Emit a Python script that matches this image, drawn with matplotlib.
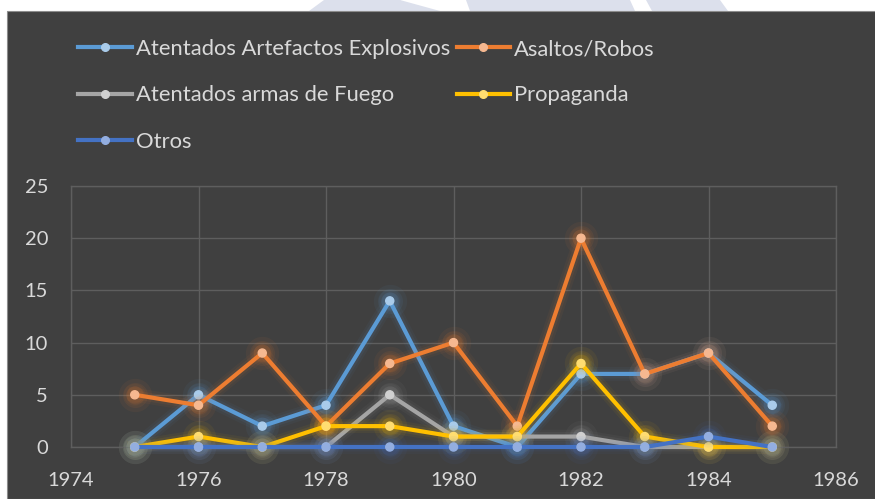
import numpy as np
import matplotlib
matplotlib.use('Agg')
import matplotlib.pyplot as plt
import matplotlib.patheffects as pe
from matplotlib.patches import Rectangle, Polygon
from matplotlib.lines import Line2D

plt.rcParams['font.family'] = ['Lato', 'DejaVu Sans']

# data
years = [1975, 1976, 1977, 1978, 1979, 1980, 1981, 1982, 1983, 1984, 1985]
explosivos = [0, 5, 2, 4, 14, 2, 0, 7, 7, 9, 4]
asaltos = [5, 4, 9, 2, 8, 10, 2, 20, 7, 9, 2]
armas_fuego = [0, 0, 0, 0, 5, 1, 1, 1, 0, 0, 0]
propaganda = [0, 1, 0, 2, 2, 1, 1, 8, 1, 0, 0]
otros = [0, 0, 0, 0, 0, 0, 0, 0, 0, 1, 0]

series = [
    ('Atentados Artefactos Explosivos', explosivos, '#5B9BD5', '#A9CBEA'),
    ('Asaltos/Robos', asaltos, '#ED7D31', '#F6B890'),
    ('Atentados armas de Fuego', armas_fuego, '#A5A5A5', '#D0D0D0'),
    ('Propaganda', propaganda, '#FFC000', '#FFDD70'),
    ('Otros', otros, '#4472C4', '#93AEE0'),
]

W, H = 875, 499
fig = plt.figure(figsize=(W / 100, H / 100), dpi=100)
fig.patch.set_facecolor('white')

# faint watermark shapes peeking above the panel
wm = '#DCE0EC'
for pts in [
    [(309, 11), (324, 0), (400, 0), (412, 11)],
    [(357, 11), (380, 4), (400, 0), (440, 11)],
    [(470, 11), (466, 0), (630, 0), (635, 11)],
    [(652, 11), (646, 0), (720, 0), (728, 11)],
]:
    fig.patches.append(Polygon([(x / W, 1 - y / H) for x, y in pts], closed=True,
                               transform=fig.transFigure, facecolor=wm, edgecolor='none', zorder=-3))

# dark chart panel
fig.patches.append(Rectangle((7 / W, 0), 1, (H - 11) / H, transform=fig.transFigure,
                             facecolor='#404040', edgecolor='#8C8C8C', linewidth=0.8, zorder=-2))

ax = fig.add_axes([71 / W, 1 - 447 / H, (836 - 71) / W, (447 - 186) / H])
ax.set_facecolor('#404040')

handles = {}
for i, (name, vals, col, mcol) in enumerate(series):
    # soft glow blobs behind the markers
    for sz, a in [(24, 0.06), (18, 0.08), (13, 0.11)]:
        ax.scatter(years, vals, s=sz ** 2, color=col, alpha=a, linewidths=0,
                   zorder=2, clip_on=False)
    glow = [pe.Stroke(linewidth=10, foreground=col, alpha=0.05),
            pe.Stroke(linewidth=6.5, foreground=col, alpha=0.08),
            pe.Normal()]
    ax.plot(years, vals, color=col, linewidth=3, marker='o', markersize=5.8,
            markerfacecolor=mcol, markeredgecolor=mcol, zorder=3 + i,
            solid_joinstyle='round', path_effects=glow, clip_on=False)
    handles[name] = Line2D([], [], color=col, linewidth=3, marker='o', markersize=5.5,
                           markerfacecolor=mcol, markeredgecolor=mcol)

ax.set_xlim(1974, 1986)
ax.set_ylim(0, 25)
ax.set_xticks(range(1974, 1987, 2))
ax.set_yticks(range(0, 26, 5))
ax.grid(True, color='#5E5E5E', linewidth=1)
ax.set_axisbelow(True)
for s in ax.spines.values():
    s.set_color('#5E5E5E')
    s.set_linewidth(1)
ax.tick_params(length=0, colors='#D9D9D9', labelsize=14.5, pad=18)
ax.tick_params(axis='y', pad=16.5)

# legend filled column-wise, so order entries to read row by row
order = ['Atentados Artefactos Explosivos', 'Atentados armas de Fuego', 'Otros',
         'Asaltos/Robos', 'Propaganda']
leg = fig.legend([handles[n] for n in order], order, loc='upper left',
                 bbox_to_anchor=(78 / W, 1 - 39 / H), ncol=2, frameon=False,
                 fontsize=15.8, labelcolor='#D9D9D9', handlelength=2.45, handletextpad=0.18,
                 columnspacing=0.3, labelspacing=1.2, borderpad=0, borderaxespad=0,
                 numpoints=1)

plt.savefig('out.png', dpi=100, facecolor=fig.get_facecolor())
